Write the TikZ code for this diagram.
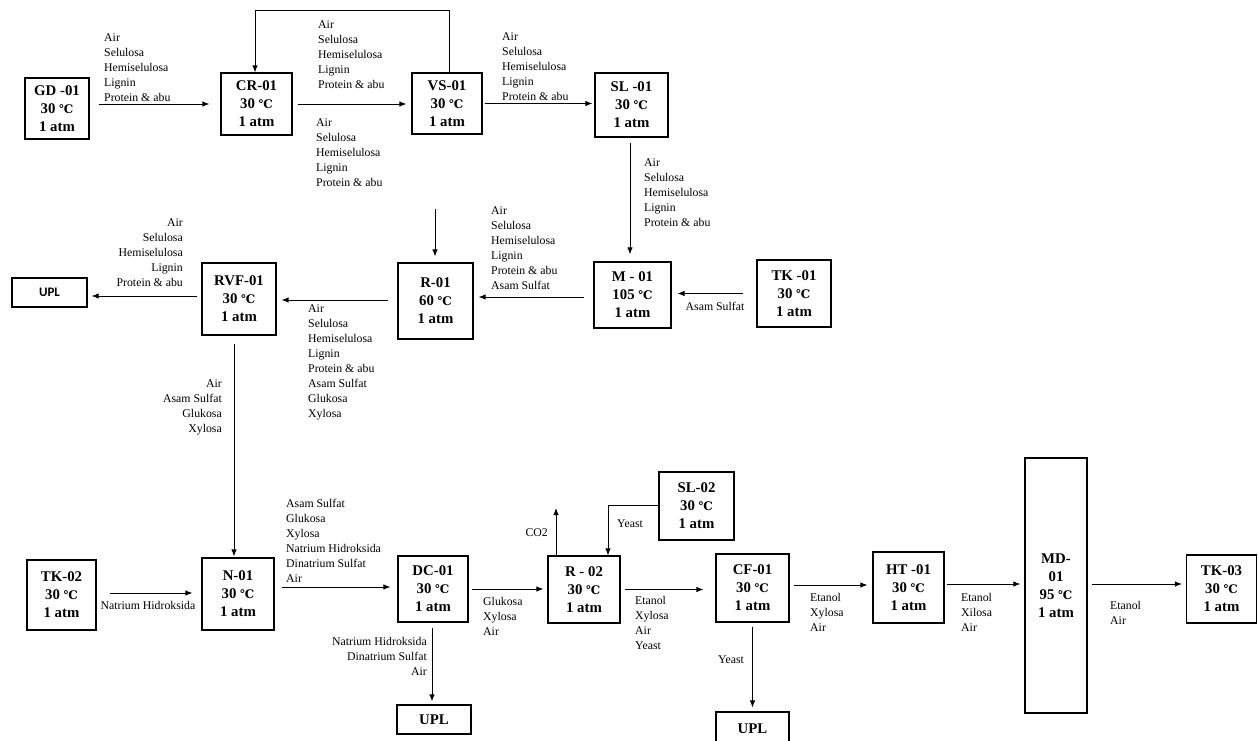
\documentclass[tikz,border=0pt]{standalone}
\usepackage{fontspec}
\setmainfont{Liberation Serif}
\newfontfamily\dvfont{DejaVu Serif}[Scale=0.8]
\newfontfamily\calib{Carlito}
\usetikzlibrary{arrows.meta,calc}
\newcommand\degC{{\dvfont ℃}}
\tikzset{
  unitbox/.style={draw, line width=1.2pt, align=center, inner sep=0pt,
    font=\bfseries\fontsize{14.8}{18}\selectfont},
  flow/.style={line width=0.9pt, -{Latex[length=7pt,width=5.5pt]}},
  lbl/.style={inner sep=0pt, font=\fontsize{11.8}{15}\selectfont},
  lblL/.style={lbl, align=left, anchor=north west},
  lblR/.style={lbl, align=right, anchor=north east},
}
\begin{document}
\begin{tikzpicture}[x=1pt,y=-1pt]
\useasboundingbox (0,0) rectangle (1258,741);
\fill[white] (0,0) rectangle (1258,741);
\begin{scope}
\clip (0,0) rectangle (1258,741);
% units
\node[unitbox, minimum width=64, minimum height=61] (GD) at (57,108.5) {GD -01\\30 \degC\\1 atm};
\node[unitbox, minimum width=71, minimum height=62] (CR) at (256.5,104) {CR-01\\30 \degC\\1 atm};
\node[unitbox, minimum width=70, minimum height=61] (VS) at (447,103.5) {VS-01\\30 \degC\\1 atm};
\node[unitbox, minimum width=73, minimum height=64] (SLa) at (631.5,105) {SL -01\\30 \degC\\1 atm};
\node[unitbox, minimum width=77, minimum height=66] (M) at (632.5,295) {M - 01\\105 \degC\\1 atm};
\node[unitbox, minimum width=74, minimum height=67] (TKa) at (794,293.5) {TK -01\\30 \degC\\1 atm};
\node[unitbox, minimum width=75, minimum height=76] (Ra) at (435.5,301) {R-01\\60 \degC\\1 atm};
\node[unitbox, minimum width=74, minimum height=72] (RVF) at (239,299) {RVF-01\\30 \degC\\1 atm};
\node[unitbox, minimum width=75, minimum height=29, font=\calib\bfseries\fontsize{13}{15}\selectfont] (UPLa) at (49.5,292.5) {UPL};
\node[unitbox, minimum width=72, minimum height=72] (N) at (238,594) {N-01\\30 \degC\\1 atm};
\node[unitbox, minimum width=69, minimum height=70] (TKb) at (61.5,595) {TK-02\\30 \degC\\1 atm};
\node[unitbox, minimum width=70, minimum height=66] (DC) at (433,589) {DC-01\\30 \degC\\1 atm};
\node[unitbox, minimum width=74, minimum height=29] (UPLb) at (434,719.5) {UPL};
\node[unitbox, minimum width=72, minimum height=67] (Rb) at (584,589.5) {R - 02\\30 \degC\\1 atm};
\node[unitbox, minimum width=75, minimum height=68] (SLb) at (696.5,506) {SL-02\\30 \degC\\1 atm};
\node[unitbox, minimum width=73, minimum height=68] (CF) at (752.5,588) {CF-01\\30 \degC\\1 atm};
\node[unitbox, minimum width=73, minimum height=34] (UPLc) at (752.5,729) {UPL};
\node[unitbox, minimum width=71, minimum height=71] (HT) at (908.5,587.5) {HT -01\\30 \degC\\1 atm};
\node[unitbox, minimum width=62, minimum height=255] (MD) at (1056,585.5) {MD-\\01\\95 \degC\\1 atm};
\node[unitbox, minimum width=70, minimum height=68] (TKc) at (1221.5,589) {TK-03\\30 \degC\\1 atm};
% helper coordinates
\coordinate (vsTop) at ($(VS.north)+(2,0)$);
\coordinate (crTop) at ($(CR.north)+(-1.5,0)$);
\coordinate (slBot) at ($(SLa.south)+(-1.5,0)$);
\coordinate (mW) at ($(M.west)+(0,2)$);
\coordinate (raW) at ($(Ra.west)+(0,-1)$);
\coordinate (rvfW) at ($(RVF.west)+(0,-3)$);
\coordinate (rvfS) at ($(RVF.south)+(-5,0)$);
\coordinate (tkbE) at ($(TKb.east)+(0,-2)$);
\coordinate (nE) at ($(N.east)+(0,-7)$);
\coordinate (dcS) at ($(DC.south)+(-1,0)$);
\coordinate (slbW) at ($(SLb.west)+(0,-1)$);
\coordinate (rbTop) at ($(Rb.north)+(24,0)$);
\coordinate (cfE) at ($(CF.east)+(0,-3)$);
\coordinate (htE) at ($(HT.east)+(0,-3.5)$);
\coordinate (mdE) at ($(MD.east)+(0,-1.5)$);
\coordinate (rin) at (435,209);
\coordinate (co2) at (556,508);
% connectors
\draw[flow, shorten <=9pt, shorten >=11pt] (GD.east |- CR.west) -- (CR.west);
\draw[flow, shorten <=5pt, shorten >=5pt] (CR.east) -- (VS.west |- CR.east);
\draw[flow, shorten <=2pt, shorten >=2pt] (VS.east) -- (SLa.west |- VS.east);
\draw[flow] (vsTop) -- ++(0,-62) -| (crTop);
\draw[flow, shorten <=5pt, shorten >=7pt] (slBot) -- (slBot |- M.north);
\draw[flow, shorten <=13pt, shorten >=6pt] (TKa.west) -- (M.east |- TKa.west);
\draw[flow, shorten <=9pt, shorten >=5pt] (mW) -- (mW -| Ra.east);
\draw[flow, shorten >=6pt] (rin) -- (rin |- Ra.north);
\draw[flow, shorten <=9pt, shorten >=5pt] (raW) -- (raW -| RVF.east);
\draw[flow, shorten <=4pt, shorten >=4pt] (rvfW) -- (rvfW -| UPLa.east);
\draw[flow, shorten <=8pt, shorten >=1pt] (rvfS) -- (rvfS |- N.north);
\draw[flow, shorten <=13pt, shorten >=9pt] (tkbE) -- (tkbE -| N.west);
\draw[flow, shorten <=7pt, shorten >=7pt] (nE) -- (nE -| DC.west);
\draw[flow, shorten <=5pt, shorten >=3pt] (dcS) -- (dcS |- UPLb.north);
\draw[flow, shorten <=3pt, shorten >=4pt] (DC.east) -- (DC.east -| Rb.west);
\draw[flow] (Rb.north -| co2) -- (co2);
\draw[flow] (slbW) -| (rbTop);
\draw[flow, shorten <=4pt, shorten >=12pt] (Rb.east) -- (Rb.east -| CF.west);
\draw[flow, shorten <=4pt, shorten >=4pt] (CF.south) -- (CF.south |- UPLc.north);
\draw[flow, shorten <=4pt, shorten >=5pt] (cfE) -- (cfE -| HT.west);
\draw[flow, shorten <=2pt, shorten >=4pt] (htE) -- (htE -| MD.west);
\draw[flow, shorten <=4pt, shorten >=4pt] (mdE) -- (mdE -| TKc.west);
% labels
\node[lblL] (l1) at (104,33) {Air\\Selulosa\\Hemiselulosa\\Lignin\\Protein \& abu};
\node[lblL] (l2) at (318,20.5) {Air\\Selulosa\\Hemiselulosa\\Lignin\\Protein \& abu};
\node[lblL] (l3) at (316,118.5) {Air\\Selulosa\\Hemiselulosa\\Lignin\\Protein \& abu};
\node[lblL] (l4) at (502,32.5) {Air\\Selulosa\\Hemiselulosa\\Lignin\\Protein \& abu};
\node[lblL] (l5) at (644,158.5) {Air\\Selulosa\\Hemiselulosa\\Lignin\\Protein \& abu};
\node[lbl] (l6) at (715,306) {Asam Sulfat};
\node[lblL] (l7) at (491,206.5) {Air\\Selulosa\\Hemiselulosa\\Lignin\\Protein \& abu\\Asam Sulfat};
\node[lblL] (l8) at (308,304.5) {Air\\Selulosa\\Hemiselulosa\\Lignin\\Protein \& abu\\Asam Sulfat\\Glukosa\\Xylosa};
\node[lblR] (l9) at (183,218.5) {Air\\Selulosa\\Hemiselulosa\\Lignin\\Protein \& abu};
\node[lblR] (l10) at (222,379.5) {Air\\Asam Sulfat\\Glukosa\\Xylosa};
\node[lbl] (l11) at (148,605) {Natrium Hidroksida};
\node[lblL] (l12) at (286,498.5) {Asam Sulfat\\Glukosa\\Xylosa\\Natrium Hidroksida\\Dinatrium Sulfat\\Air};
\node[lblR] (l13) at (427,637.5) {Natrium Hidroksida\\Dinatrium Sulfat\\Air};
\node[lblL] (l14) at (483,597.5) {Glukosa\\Xylosa\\Air};
\node[lbl, anchor=east] (l15) at (548,533) {CO2};
\node[lbl, anchor=west] (l16) at (617,524) {Yeast};
\node[lblL] (l17) at (635,596.5) {Etanol\\Xylosa\\Air\\Yeast};
\node[lbl, anchor=west] (l18) at (718,660) {Yeast};
\node[lblL] (l19) at (810,593.5) {Etanol\\Xylosa\\Air};
\node[lblL] (l20) at (961,593.5) {Etanol\\Xilosa\\Air};
\node[lblL] (l21) at (1110,601.5) {Etanol\\Air};
\end{scope}
\end{tikzpicture}
\end{document}
